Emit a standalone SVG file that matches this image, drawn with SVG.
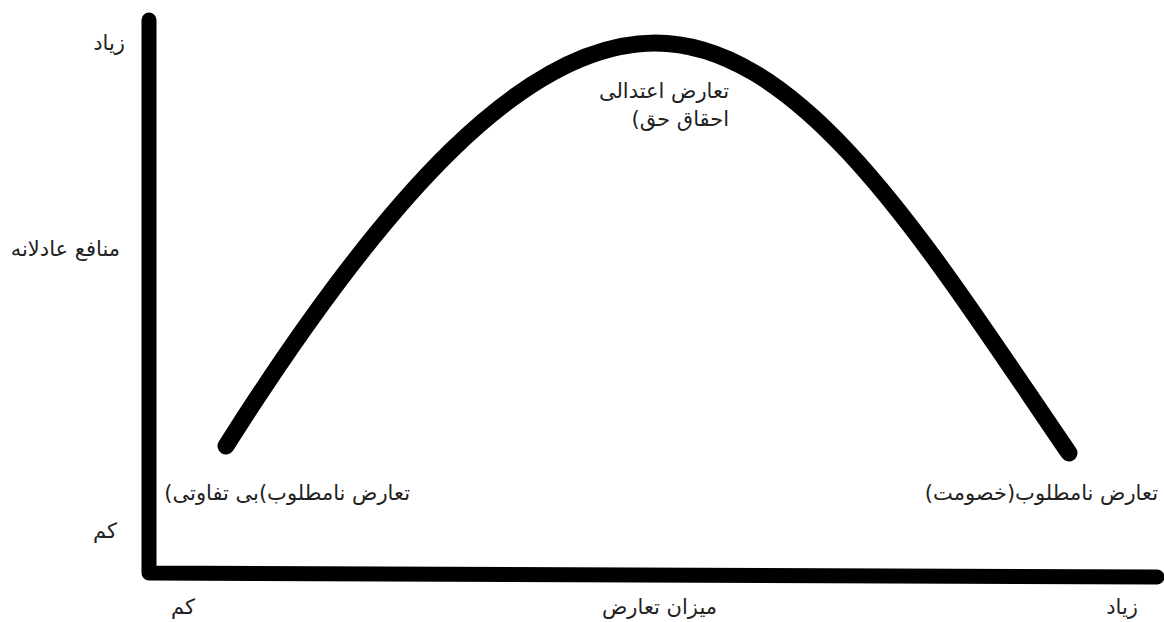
<svg xmlns="http://www.w3.org/2000/svg" width="1164" height="622" viewBox="0 0 1164 622">
<style>
.t{font-family:"DejaVu Sans",sans-serif;font-size:21px;fill:#222;direction:rtl;unicode-bidi:embed;text-anchor:start}
.ax{fill:none;stroke:#000;stroke-width:15;stroke-linecap:round;stroke-linejoin:round}
.cv{fill:none;stroke:#000;stroke-width:17;stroke-linecap:round}
</style>
<rect width="1164" height="622" fill="#fff"/>
<g id="connectors">
<path class="ax" d="M149,20 L149,573 L1157,577"/>
<path class="cv" d="M226,446 C385,195 525,43 655,43 C805,43 930,250 1069,453"/>
</g>
<g id="y-high"><text class="t" x="125" y="50">زیاد</text></g>
<g id="y-label"><text class="t" x="120" y="256">منافع عادلانه</text></g>
<g id="y-low"><text class="t" x="117" y="538">کم</text></g>
<g id="peak-label"><text class="t" x="729" y="98">تعارض اعتدالی</text><text class="t" x="729" y="126">احقاق حق)</text></g>
<g id="left-label"><text class="t" x="410" y="500">تعارض نامطلوب)بی تفاوتی)</text></g>
<g id="right-label"><text class="t" x="1158" y="500">تعارض نامطلوب(خصومت)</text></g>
<g id="x-low"><text class="t" x="195" y="614">کم</text></g>
<g id="x-label"><text class="t" x="717" y="614">میزان تعارض</text></g>
<g id="x-high"><text class="t" x="1138" y="614">زیاد</text></g>
</svg>
